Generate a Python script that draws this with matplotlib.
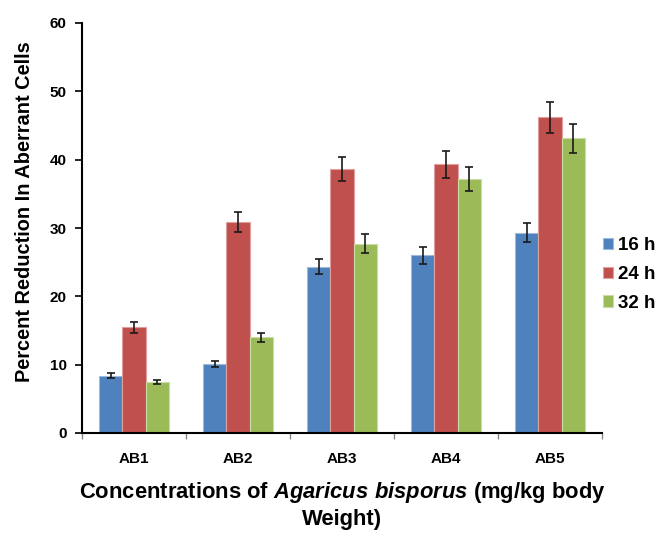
import matplotlib
matplotlib.use("Agg")
import matplotlib.pyplot as plt
import numpy as np

categories = ["AB1", "AB2", "AB3", "AB4", "AB5"]
series_names = ["16 h", "24 h", "32 h"]
vals_16 = [8.4, 10.1, 24.3, 26.0, 29.3]
vals_24 = [15.5, 30.9, 38.6, 39.3, 46.2]
vals_32 = [7.4, 14.0, 27.7, 37.2, 43.1]
err_16 = [0.4, 0.45, 1.1, 1.2, 1.4]
err_24 = [0.8, 1.5, 1.75, 2.0, 2.3]
err_32 = [0.3, 0.7, 1.35, 1.8, 2.1]
yticks = [0, 10, 20, 30, 40, 50, 60]

colors = ["#4F81BD", "#C0504D", "#9BBB59"]
edges = ["#9DB9DC", "#E0A09E", "#C8DCA4"]

plt.rcParams['font.family'] = ['Liberation Sans', 'DejaVu Sans']
plt.rcParams['mathtext.fontset'] = 'custom'
plt.rcParams['mathtext.rm'] = 'Liberation Sans:bold'
plt.rcParams['mathtext.it'] = 'Liberation Sans:italic:bold'
plt.rcParams['mathtext.bf'] = 'Liberation Sans:bold'

fig = plt.figure(figsize=(6.56, 5.33), dpi=100)
ax = fig.add_axes([82/656, 1-433/533, (602-82)/656, (433-23)/533])

x = np.arange(len(categories))
w = 0.224
handles = []
for i, (v, e) in enumerate([(vals_16, err_16), (vals_24, err_24), (vals_32, err_32)]):
    b = ax.bar(x + (i-1)*w, v, w, color=colors[i], edgecolor=edges[i], linewidth=0.8,
               yerr=e, capsize=3, error_kw=dict(ecolor='#1a1a1a', elinewidth=1.2, capthick=1.2),
               label=series_names[i], zorder=2)
    handles.append(b)

ax.set_xlim(-0.5, len(categories)-0.5)
ax.set_ylim(0, 60)
ax.set_yticks(yticks)
ax.set_yticklabels([str(t) for t in yticks], fontsize=11, fontweight='bold')
ax.set_xticks(x)
ax.set_xticklabels(categories, fontsize=11, fontweight='bold')
ax.set_xticks(np.arange(-0.5, len(categories)), minor=True)
ax.tick_params(axis='x', which='major', length=0, pad=14)
ax.tick_params(axis='x', which='minor', length=4, width=1, direction='out', color='#888888')
ax.tick_params(axis='y', length=5, width=1.2, direction='out', pad=6)
for s in ['top', 'right']:
    ax.spines[s].set_visible(False)
for s in ['left', 'bottom']:
    ax.spines[s].set_linewidth(1.5)

ax.set_ylabel("Percent Reduction In Aberrant Cells", fontsize=14.4, fontweight='bold')
ax.yaxis.set_label_coords(-0.111, 0.539)
ax.yaxis.label.set_verticalalignment('center')
ax.set_xlabel("Concentrations of $\\mathit{Agaricus\\ bisporus}$ (mg/kg body\nWeight)",
              fontsize=15.8, fontweight='bold', linespacing=1.3)
ax.xaxis.set_label_coords(0.5, -0.1756)
ax.xaxis.label.set_verticalalignment('center')

fig.legend(handles=handles, labels=series_names, loc='center left',
           bbox_to_anchor=(603/656, 1-274.5/533), frameon=False,
           prop=dict(family='Liberation Sans', weight='bold', size=13.5),
           handlelength=0.55, handleheight=0.55, handletextpad=0.27, labelspacing=0.62,
           borderpad=0, borderaxespad=0)

fig.savefig("out.png", dpi=100)
